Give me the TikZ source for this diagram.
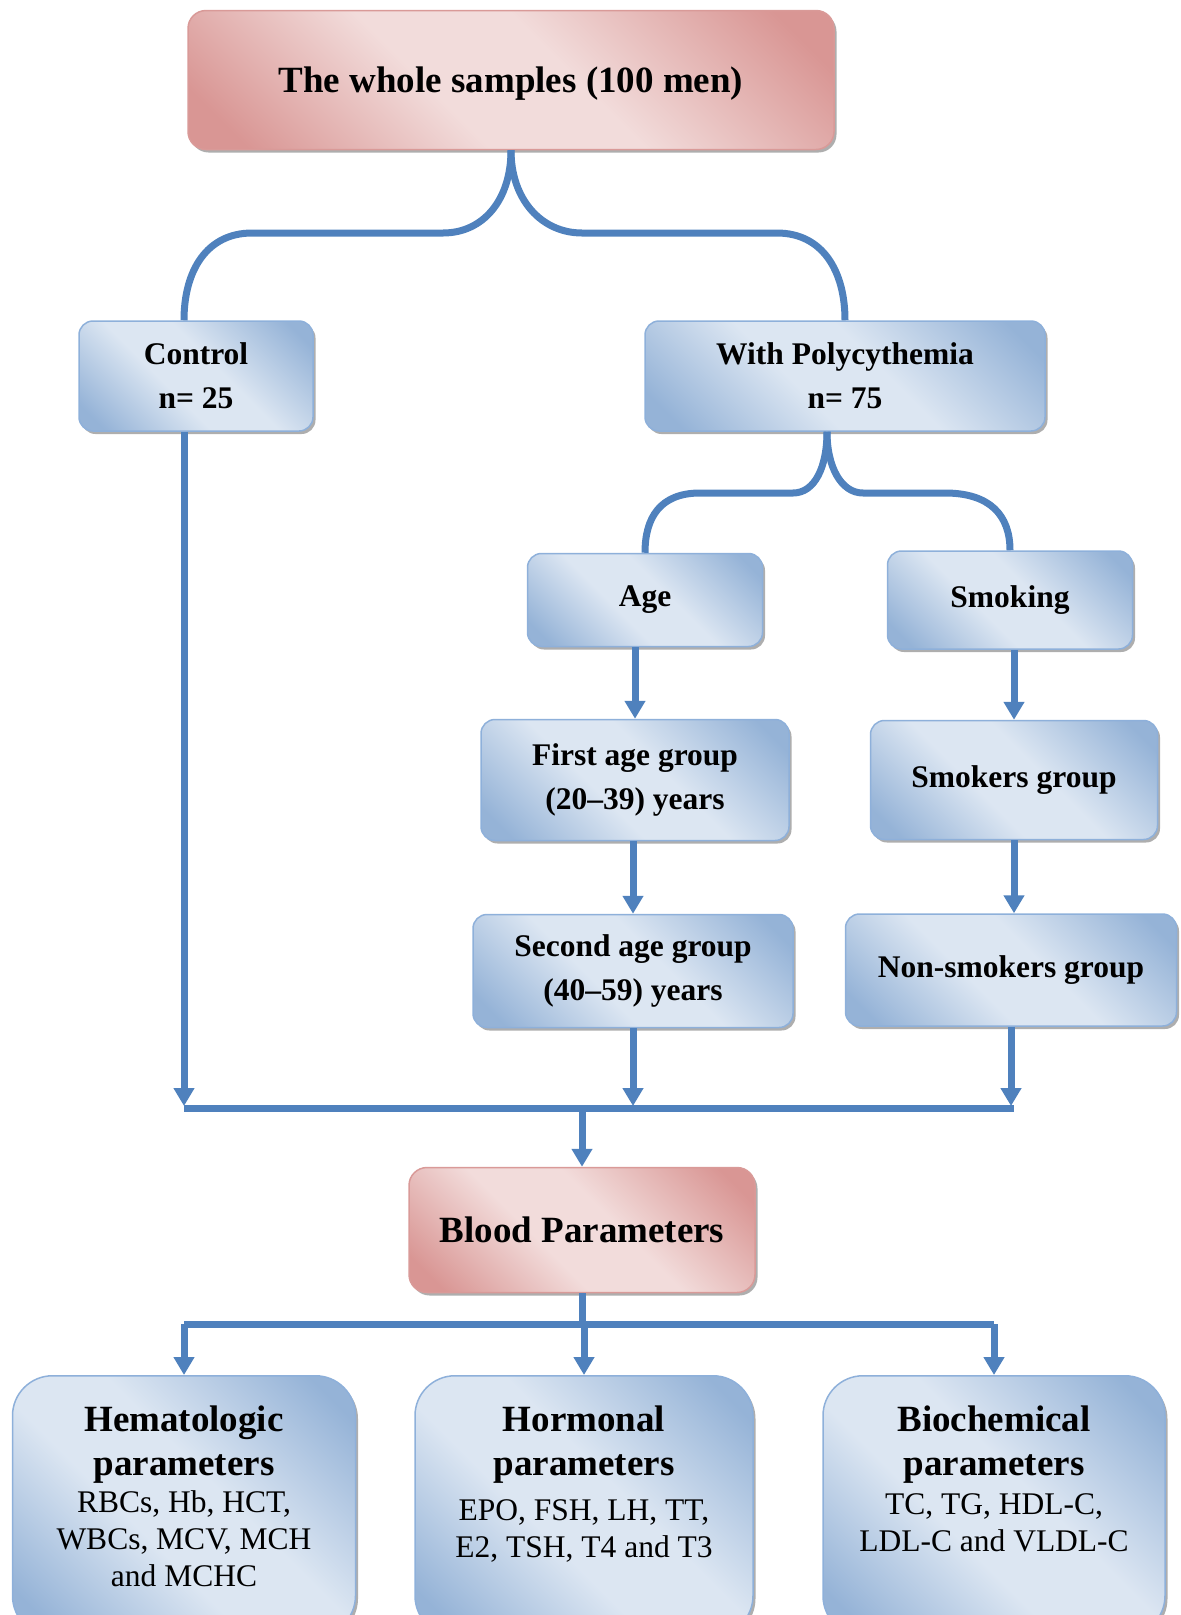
\documentclass[tikz,border=0pt]{standalone}
\usepackage{fontspec}
\setmainfont{Liberation Serif}
\usepackage{xcolor}
\usetikzlibrary{positioning,calc,arrows.meta,shadows}

\definecolor{linkblue}{HTML}{4F81BD}
\definecolor{boxdark}{HTML}{95B3D7}
\definecolor{boxlight}{HTML}{DCE6F2}
\definecolor{boxedge}{HTML}{8EB0DA}
\definecolor{pinkdark}{HTML}{D99694}
\definecolor{pinklight}{HTML}{F2DCDB}
\definecolor{pinkedge}{HTML}{D99A98}

\pgfdeclarehorizontalshading{bluefade}{100bp}{color(0bp)=(boxdark); color(20bp)=(boxdark); color(42bp)=(boxlight); color(56bp)=(boxlight); color(80bp)=(boxdark); color(100bp)=(boxdark)}
\pgfdeclarehorizontalshading{pinkfade}{100bp}{color(0bp)=(pinkdark); color(20bp)=(pinkdark); color(42bp)=(pinklight); color(56bp)=(pinklight); color(80bp)=(pinkdark); color(100bp)=(pinkdark)}

\newcommand{\midbf}{\fontsize{31.5}{44}\selectfont\bfseries}
\newcommand{\bigbf}{\fontsize{37}{43}\selectfont\bfseries}
\newcommand{\plaintx}{\fontsize{31.5}{37}\selectfont}

\tikzset{
  grpbox/.style={draw=boxedge, line width=1.5pt, rounded corners=14pt, shading=bluefade, shading angle=45,
    drop shadow={shadow xshift=2.5pt, shadow yshift=-3pt, fill=black!45, opacity=0.7},
    align=center, inner sep=0pt, font=\midbf},
  mainbox/.style={grpbox, draw=pinkedge, shading=pinkfade, rounded corners=18pt, font=\bigbf},
  parambox/.style={grpbox, rounded corners=40pt},
  link/.style={draw=linkblue, line width=7pt},
  flow/.style={link, ->}
}

\begin{document}
\begin{tikzpicture}[x=1pt, y=-1pt, >={Triangle[width=20pt,length=18pt]}]
  \useasboundingbox (0,0) rectangle (1181,1615);
  \clip (0,0) rectangle (1181,1615);

  \node[mainbox, minimum width=646, minimum height=139] (top) at (511,80) {\raisebox{-4pt}[25pt][8pt]{The whole samples (100 men)}};
  \node[grpbox, minimum width=234, minimum height=110] (ctrl) at (196,376) {Control\\n= 25};
  \node[grpbox, minimum width=400, minimum height=110] (poly) at (845,376) {With Polycythemia\\n= 75};
  \node[grpbox, minimum width=235, minimum height=93] (age) at (645,600) {Age};
  \node[grpbox, minimum width=245, minimum height=98] (smoke) at (1010,600) {Smoking};
  \node[grpbox, minimum width=308, minimum height=121] (first) at (635,780) {First age group\\(20--39) years};
  \node[grpbox, minimum width=287, minimum height=119] (smokers) at (1014,780) {Smokers group};
  \node[grpbox, minimum width=320, minimum height=113] (second) at (633,971) {Second age group\\(40--59) years};
  \node[grpbox, minimum width=331, minimum height=112] (nonsm) at (1011,970) {Non-smokers group};
  \node[mainbox, minimum width=346, minimum height=125] (blood) at (582,1230) {Blood Parameters};

  \node[parambox, minimum width=343, minimum height=260, anchor=north] (hema) at (184,1375) {};
  \node[parambox, minimum width=338, minimum height=260, anchor=north] (horm) at (584,1375) {};
  \node[parambox, minimum width=342, minimum height=260, anchor=north] (bioc) at (994,1375) {};
  \node[anchor=north, align=center, font=\plaintx] (hemaTxt) at ($(hema.north)+(0,27)$)
    {{\bigbf Hematologic}\\[7pt]{\bigbf parameters}\\RBCs, Hb, HCT,\\WBCs, MCV, MCH\\and MCHC};
  \node[anchor=north, align=center, font=\plaintx] (hormTxt) at ($(horm.north)+(0,27)$)
    {{\bigbf Hormonal}\\[7pt]{\bigbf parameters}\\[8pt]EPO, FSH, LH, TT,\\E2, TSH, T4 and T3};
  \node[anchor=north, align=center, font=\plaintx] (biocTxt) at ($(bioc.north)+(0,27)$)
    {{\bigbf Biochemical}\\[7pt]{\bigbf parameters}\\[2pt]TC, TG, HDL-C,\\LDL-C and VLDL-C};

  \coordinate (ctrlin) at ($(ctrl.north)+(-12,0)$);
  \coordinate (polyout) at ($(poly.south)+(-18,0)$);
  \coordinate (barL) at (184,1108);
  \coordinate (barR) at (1014,1108);
  \coordinate (split) at (583,1324);

  \draw[link] (top.south) .. controls +(0,50) and +(40,0) .. (443,233) -- (252,233)
    .. controls +(-45,0) and +(0,-50) .. (ctrlin);
  \draw[link] (top.south) .. controls +(0,50) and +(-40,0) .. (582,233) -- (777,233)
    .. controls +(45,0) and +(0,-50) .. (poly.north);
  \draw[link] (polyout) .. controls +(0,35) and +(22,0) .. (793,493) -- (700,493)
    .. controls +(-40,0) and +(0,-35) .. (age.north);
  \draw[link] (polyout) .. controls +(0,35) and +(-22,0) .. (863,493) -- (945,493)
    .. controls +(45,0) and +(0,-35) .. (smoke.north);

  \draw[flow] (age.south -| first.north) -- (first.north);
  \draw[flow] (first.south -| second.north) -- (second.north);
  \draw[flow] (smoke.south -| smokers.north) -- (smokers.north);
  \draw[flow] (smokers.south) -- (smokers.south |- nonsm.north);

  \draw[flow] (ctrl.south -| barL) -- ($(barL)+(0,-2)$);
  \draw[flow] (second.south) -- ($(second.south |- barL)+(0,-2)$);
  \draw[flow] (nonsm.south) -- ($(nonsm.south |- barL)+(0,-2)$);
  \draw[link] (barL) -- (barR);
  \draw[flow] (blood.north |- barL) -- (blood.north);

  \draw[link] (blood.south) -- (blood.south |- split);
  \draw[link] (hema.north |- split) -- (bioc.north |- split);
  \foreach \b in {hema,horm,bioc}
    \draw[flow] (\b.north |- split) -- (\b.north);
\end{tikzpicture}
\end{document}
